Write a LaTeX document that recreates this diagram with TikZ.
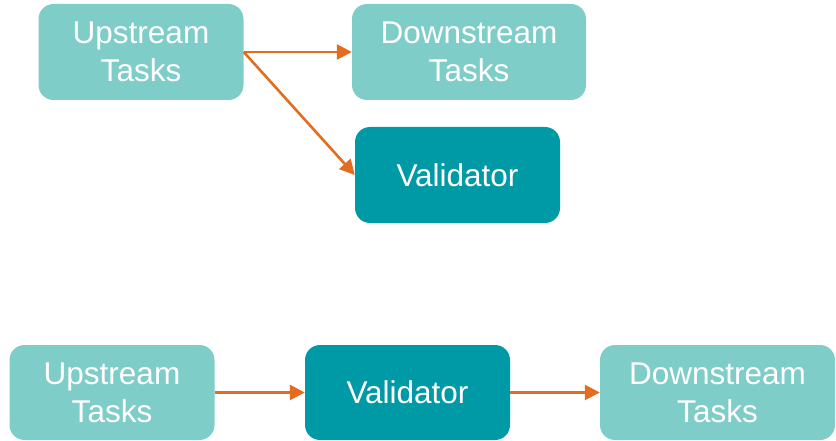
\documentclass[tikz,border=0pt]{standalone}
\usepackage{fontspec}
\setmainfont{Liberation Sans}
\usetikzlibrary{arrows.meta}
\definecolor{taskfill}{HTML}{7FCDC8}
\definecolor{validfill}{HTML}{009AA6}
\definecolor{flow}{HTML}{E46C1E}
\tikzset{
  box/.style={rectangle, rounded corners=15pt, inner sep=0pt, align=center,
    text=white, font=\fontsize{31.5}{38}\selectfont},
  task/.style={box, fill=taskfill},
  valid/.style={box, fill=validfill},
  flowarrow/.style={draw=flow, line width=2.6pt,
    -{Triangle[length=15pt,width=15pt]}}
}
\begin{document}
\begin{tikzpicture}[x=1pt,y=-1pt]
  \useasboundingbox (0,0) rectangle (836,441);
  % direct dependency with a side validator
  \node[task, minimum width=205pt, minimum height=96pt] (up1) at (141,52) {Upstream\\Tasks};
  \node[task, minimum width=234pt, minimum height=96pt] (down1) at (469,52) {Downstream\\Tasks};
  \node[valid, minimum width=205pt, minimum height=96pt] (val1) at (457.5,175) {Validator};
  \draw[flowarrow] (up1.east) -- (down1.west);
  \draw[flowarrow] (up1.east) -- (val1.west);
  % validator placed in the chain
  \node[task, minimum width=205pt, minimum height=95pt] (up2) at (112,392.5) {Upstream\\Tasks};
  \node[valid, minimum width=205pt, minimum height=95pt] (val2) at (407.5,392.5) {Validator};
  \node[task, minimum width=235pt, minimum height=95pt] (down2) at (717.5,392.5) {Downstream\\Tasks};
  \draw[flowarrow] (up2.east) -- (val2.west);
  \draw[flowarrow] (val2.east) -- (down2.west);
\end{tikzpicture}
\end{document}
